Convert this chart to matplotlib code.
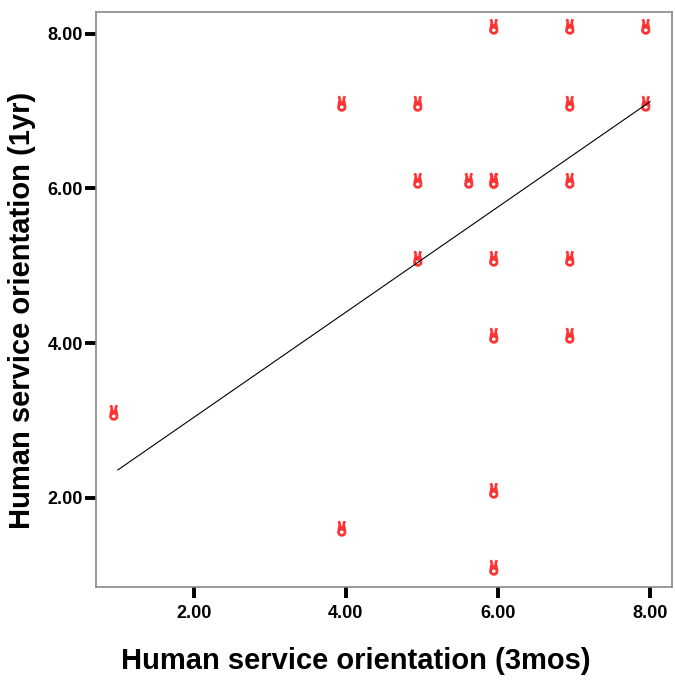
import numpy as np
import matplotlib
matplotlib.use("Agg")
import matplotlib.pyplot as plt
from matplotlib.path import Path
from matplotlib.markers import MarkerStyle

# data
x_3mos = [1, 4, 4, 5, 5, 5, 5.67, 6, 6, 6, 6, 6, 6, 6, 7, 7, 7, 7, 7, 8, 8]
y_1yr  = [3, 7, 1.5, 7, 6, 5, 6, 8, 6, 5, 4, 2, 1, 6, 8, 7, 6, 5, 4, 8, 7]
x_ticks = [2.0, 4.0, 6.0, 8.0]
y_ticks = [2.0, 4.0, 6.0, 8.0]
fit_intercept = 1.68
fit_slope = 0.68
fit_range = [1.0, 8.0]

plt.rcParams['font.family'] = ['Liberation Sans', 'DejaVu Sans']

# custom glyph marker: ears on top of a small loop, offset up-left of the point
theta = np.linspace(0, 2 * np.pi, 25)
cx, cy, r = -0.6, 0.55, 0.42
circ = np.column_stack([cx + r * np.cos(theta), cy + 0.95 * r * np.sin(theta)])
verts = list(circ)
codes = [Path.MOVETO] + [Path.LINETO] * (len(circ) - 1)
verts += [(cx - 0.38, cy + 0.25), (cx - 0.22, cy + 1.05), (cx + 0.38, cy + 0.25), (cx + 0.22, cy + 1.05)]
codes += [Path.MOVETO, Path.LINETO, Path.MOVETO, Path.LINETO]
verts += [(cx - 0.22, cy + 1.05), (cx - 0.4, cy + 1.4), (cx + 0.22, cy + 1.05), (cx + 0.4, cy + 1.4)]
codes += [Path.MOVETO, Path.LINETO, Path.MOVETO, Path.LINETO]
verts += [(cx - 0.3, cy + 0.6), (cx + 0.3, cy + 0.6)]
codes += [Path.MOVETO, Path.LINETO]
glyph = Path(verts, codes)

fig = plt.figure(figsize=(6.75, 6.83), dpi=100)
ax = fig.add_axes([0.142, 0.141, 0.8536, 0.8414])

ax.plot(x_3mos, y_1yr, linestyle='none', marker=MarkerStyle(glyph),
        markersize=22, markeredgewidth=2.0, markeredgecolor='#ff3333',
        markerfacecolor='none')

fx = np.array(fit_range)
ax.plot(fx, fit_intercept + fit_slope * fx, color='black', linewidth=0.8)

ax.set_xlim(0.71, 8.29)
ax.set_ylim(0.85, 8.28)
ax.set_xticks(x_ticks)
ax.set_yticks(y_ticks)
ax.set_xticklabels([f"{v:.2f}" for v in x_ticks], fontsize=13, fontweight='bold')
ax.set_yticklabels([f"{v:.2f}" for v in y_ticks], fontsize=13, fontweight='bold')
ax.tick_params(axis='both', direction='out', length=8, width=2.8, color='black')
ax.tick_params(axis='x', pad=5)
ax.tick_params(axis='y', pad=1.5)

for s in ax.spines.values():
    s.set_color('#888888')
    s.set_linewidth(1.2)

ax.set_xlabel("Human service orientation (3mos)", fontsize=21, fontweight='bold', labelpad=18)
ax.set_ylabel("Human service orientation (1yr)", fontsize=21, fontweight='bold', labelpad=8)
ax.xaxis.label.set_x(0.451)
ax.yaxis.label.set_y(0.48)

fig.savefig("out.png", dpi=100)
